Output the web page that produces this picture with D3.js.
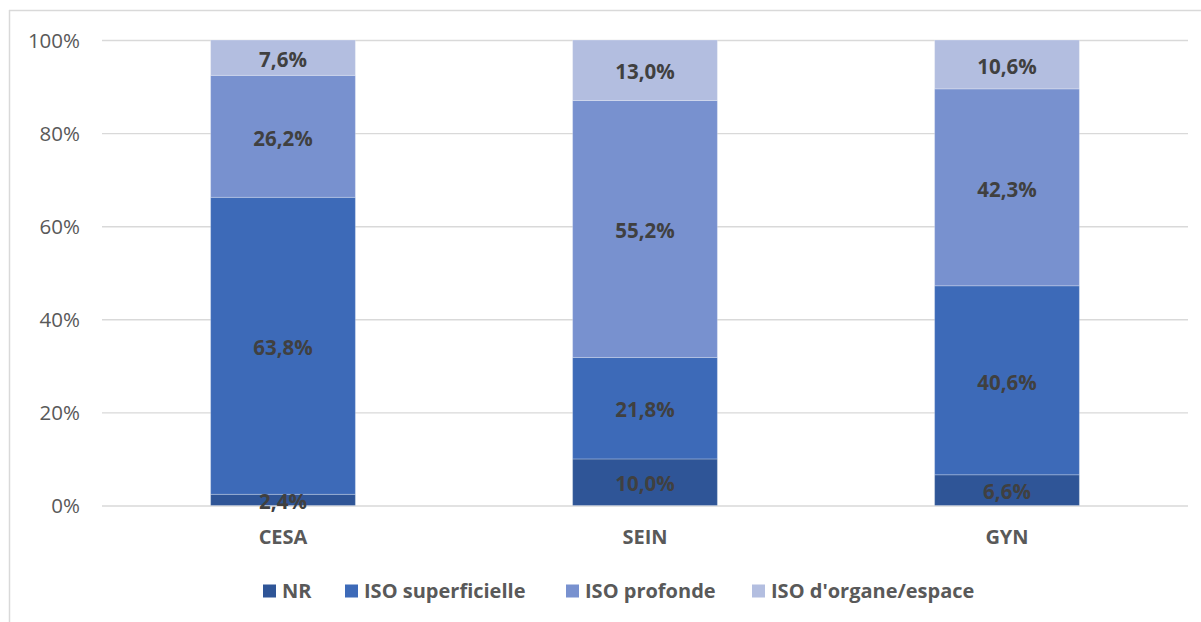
<!DOCTYPE html>
<html>
<head>
<meta charset="utf-8">
<script src="https://cdn.jsdelivr.net/npm/d3@7"></script>
<style>
  html, body { margin: 0; padding: 0; background: #ffffff; }
  svg { display: block; }
</style>
</head>
<body>
<svg id="chart" width="1201" height="622"></svg>
<script>
const categories = ["CESA", "SEIN", "GYN"];
const seriesNames = ["NR", "ISO superficielle", "ISO profonde", "ISO d'organe/espace"];
const nrValues = [2.4, 10.0, 6.6];
const superficielleValues = [63.8, 21.8, 40.6];
const profondeValues = [26.2, 55.2, 42.3];
const organeValues = [7.6, 13.0, 10.6];
const yTicks = [0, 20, 40, 60, 80, 100];
const colors = ["#2F5597", "#3D6AB8", "#7891CF", "#B3BEE0"];

const seriesValues = [nrValues, superficielleValues, profondeValues, organeValues];
const rows = categories.map((c, i) => {
  const r = { category: c };
  seriesNames.forEach((s, j) => { r[s] = seriesValues[j][i]; });
  return r;
});

const svg = d3.select("#chart");
const FONT = "'Open Sans', 'Noto Sans', sans-serif";

// outer frame
svg.append("line").attr("x1", 9).attr("x2", 1201).attr("y1", 10.5).attr("y2", 10.5)
  .attr("stroke", "#d9d9d9").attr("stroke-width", 1.5);
svg.append("line").attr("x1", 9.5).attr("x2", 9.5).attr("y1", 10).attr("y2", 622)
  .attr("stroke", "#d9d9d9").attr("stroke-width", 1.5);

const plotLeft = 102, plotRight = 1188, plotTop = 40, plotBottom = 505.5;

const x = d3.scaleBand().domain(categories).range([plotLeft, plotRight])
  .paddingInner(0.6).paddingOuter(0.3);
const y = d3.scaleLinear().domain([0, 100]).range([plotBottom, plotTop]);

// gridlines
const grid = svg.append("g")
  .attr("transform", `translate(${plotLeft},0)`)
  .call(d3.axisLeft(y).tickValues(yTicks).tickSize(-(plotRight - plotLeft)).tickFormat(""));
grid.select(".domain").remove();
grid.selectAll(".tick line").attr("stroke", "#d9d9d9").attr("stroke-width", 1.4);

// y tick labels
const yAxis = svg.append("g")
  .attr("transform", `translate(80,0)`)
  .call(d3.axisLeft(y).tickValues(yTicks).tickSize(0).tickPadding(0).tickFormat(d => d + "%"));
yAxis.select(".domain").remove();
yAxis.selectAll("text").attr("font-family", FONT).attr("font-size", "20.5px")
  .attr("fill", "#595959").attr("text-anchor", "end").attr("dy", "0.35em");

// stacked bars
const stack = d3.stack().keys(seriesNames);
const stacked = stack(rows);

const layers = svg.append("g").selectAll("g").data(stacked).join("g")
  .attr("fill", (d, i) => colors[i]);
layers.selectAll("rect").data(d => d).join("rect")
  .attr("x", d => x(d.data.category))
  .attr("width", x.bandwidth())
  .attr("y", d => y(Math.min(d[1], 100)))
  .attr("height", d => y(d[0]) - y(Math.min(d[1], 100)))
  .attr("stroke", "rgba(255,255,255,0.25)")
  .attr("stroke-width", 1);

// value labels
const labels = svg.append("g").selectAll("g").data(stacked).join("g");
labels.selectAll("text").data(d => d.map(v => ({ v, key: d.key }))).join("text")
  .attr("x", d => x(d.v.data.category) + x.bandwidth() / 2)
  .attr("y", d => (y(d.v[0]) + y(Math.min(d.v[1], 100))) / 2)
  .attr("dy", "0.45em")
  .attr("text-anchor", "middle")
  .attr("font-family", FONT).attr("font-weight", "bold").attr("font-size", "20.5px")
  .attr("fill", "#404040")
  .text(d => d3.format(".1f")(d.v.data[d.key]).replace(".", ",") + "%");

// x axis labels
const xAxis = svg.append("g")
  .attr("transform", `translate(0,${plotBottom})`)
  .call(d3.axisBottom(x).tickSize(0).tickPadding(0));
xAxis.select(".domain").remove();
xAxis.selectAll("text").attr("font-family", FONT).attr("font-weight", "bold")
  .attr("font-size", "20px").attr("fill", "#595959")
  .attr("y", 31).attr("dy", "0.35em");

// legend
const legendX = [263, 345, 566, 752];
const legend = svg.append("g").selectAll("g").data(seriesNames).join("g")
  .attr("transform", (d, i) => `translate(${legendX[i]},591)`);
legend.append("rect").attr("x", 0).attr("y", -6.5).attr("width", 13).attr("height", 13)
  .attr("fill", (d, i) => colors[i]);
legend.append("text").attr("x", 19).attr("y", 0).attr("dy", "0.35em")
  .attr("font-family", FONT).attr("font-weight", "bold").attr("font-size", "20px")
  .attr("fill", "#595959").text(d => d);
</script>
</body>
</html>
